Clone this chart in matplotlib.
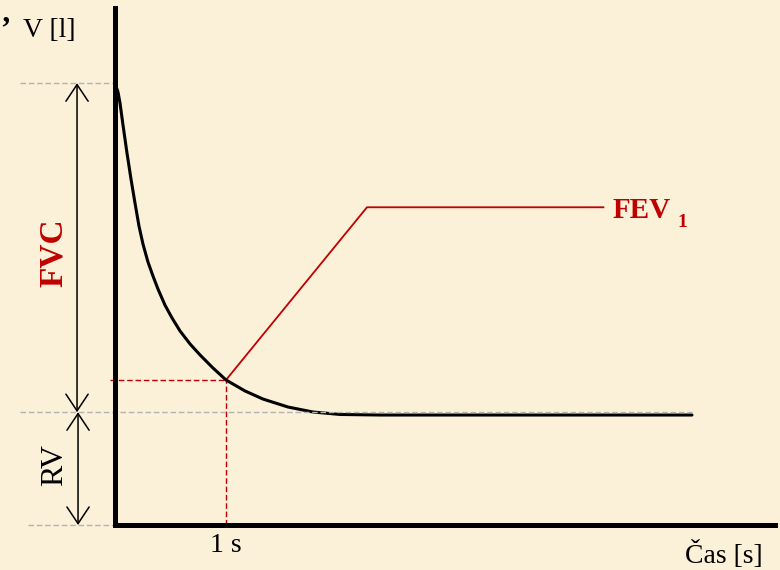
import matplotlib.pyplot as plt

# spirometry curve (time in s, volume in l)
t_curve = [0.0, 0.027, 0.045, 0.072, 0.108, 0.144, 0.180, 0.216, 0.252, 0.297, 0.342,
           0.387, 0.450, 0.514, 0.586, 0.676, 0.766, 0.883, 1.0, 1.171, 1.333, 1.559,
           1.784, 2.027, 2.387, 5.198]
v_curve = [4.70, 4.606, 4.489, 4.255, 3.957, 3.681, 3.426, 3.181, 2.989, 2.798, 2.649,
           2.511, 2.340, 2.202, 2.064, 1.926, 1.809, 1.670, 1.543, 1.426, 1.340, 1.255,
           1.202, 1.176, 1.170, 1.170]

TLC = 4.7
RV = 1.2
t_fev = 1.0
v_fev = 1.543

x_label = "Čas [s]"
y_label = "V [l]"
tick_label = "1 s"

plt.rcParams['font.family'] = ['Liberation Serif', 'DejaVu Serif']
bg = '#fbf0d8'
red = '#c00000'
grey = '#b4b4b4'

fig = plt.figure(figsize=(7.8, 5.7), dpi=100, facecolor=bg)
ax = fig.add_axes([115 / 780, 45 / 570, 660 / 780, 517 / 570])
ax.set_facecolor('none')
ax.set_xlim(0, 660 / 111)
ax.set_ylim(0, 517 / 94)

for s in ['top', 'right']:
    ax.spines[s].set_visible(False)
for s in ['left', 'bottom']:
    ax.spines[s].set_linewidth(3.6)
    ax.spines[s].set_zorder(5)
ax.set_yticks([])
ax.set_xticks([t_fev])
ax.set_xticklabels([tick_label], fontsize=20)
ax.tick_params(axis='x', length=0, pad=6)

# curve
ax.plot(t_curve, v_curve, color='black', lw=2.2, solid_capstyle='round',
        solid_joinstyle='round', zorder=3)

# grey reference lines
ax.plot([-0.856, 5.2], [RV, RV], color=grey, lw=1, ls=(0, (4, 2)), clip_on=False, zorder=4)
ax.plot([-0.856, 0], [TLC, TLC], color=grey, lw=1, ls=(0, (4, 2)), clip_on=False)
ax.plot([-0.78, 0], [0, 0], color=grey, lw=1, ls=(0, (4, 2)), clip_on=False)

# FEV1 markers
ax.plot([-0.045, t_fev], [v_fev, v_fev], color=red, lw=1, ls=(0, (4, 2)), clip_on=False)
ax.plot([t_fev, t_fev], [0, v_fev], color=red, lw=1, ls=(0, (4, 2)))
ax.plot([t_fev, 2.27, 4.40], [v_fev, 3.38, 3.38], color=red, lw=1.3)
fig.text(613 / 780, 1 - 218 / 570, 'FEV', color=red, fontsize=21, fontweight='bold')
fig.text(677 / 780, 1 - 227 / 570, '1', color=red, fontsize=14, fontweight='bold')

# FVC / RV arrows
ap = dict(arrowstyle='<->,head_length=0.6,head_width=0.4', lw=1.1, color='black',
          shrinkA=0, shrinkB=0, mutation_scale=20)
ax.annotate('', xy=(-0.342, TLC), xytext=(-0.342, RV), arrowprops=ap, annotation_clip=False)
ax.annotate('', xy=(-0.333, RV), xytext=(-0.333, 0), arrowprops=ap, annotation_clip=False)

fig.text(53 / 780, 1 - 253 / 570, 'FVC', color=red, fontsize=24, fontweight='bold',
         rotation=90, ha='center', va='center')
fig.text(55 / 780, 1 - 465 / 570, 'RV', color='black', fontsize=23,
         rotation=90, ha='center', va='center')

fig.text(23 / 780, 1 - 37 / 570, y_label, fontsize=20)
fig.text(685 / 780, 1 - 563 / 570, x_label, fontsize=20)
fig.text(0, 1 - 37 / 570, '\u2019', fontsize=22, fontweight='bold')

fig.savefig('out.png', dpi=100, facecolor=bg)
